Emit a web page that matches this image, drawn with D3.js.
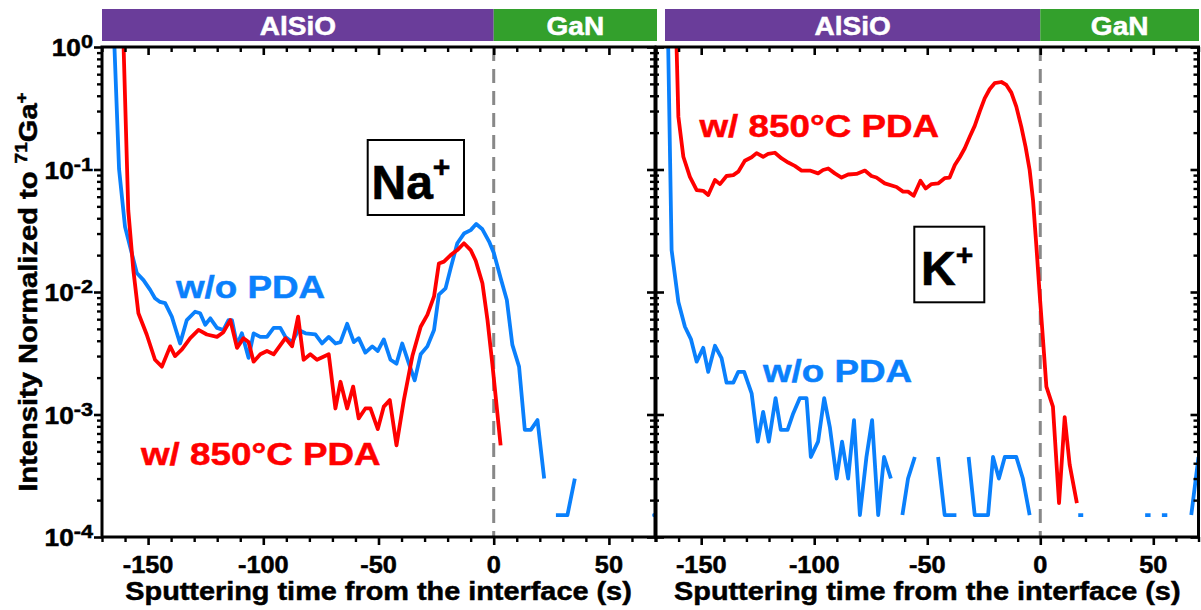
<!DOCTYPE html>
<html><head><meta charset="utf-8">
<script src="https://cdn.jsdelivr.net/npm/d3@7/dist/d3.min.js"></script>
<style>
body{margin:0;background:#fff}
svg{display:block}
text{font-family:"Liberation Sans",Arial,Helvetica,sans-serif;font-weight:bold}
</style>
</head><body>
<svg id="chart" width="1201" height="610"></svg>
<script>
// ---------------- DATA ----------------
const layerNames = ["AlSiO", "GaN"];
const ionNames = ["Na", "K"];
const seriesNames = ["w/o PDA", "w/ 850°C PDA"];
const xTickValues = [-150, -100, -50, 0, 50];
const yTickExponents = [0, -1, -2, -3, -4];
const xDomain = [-170, 70];
const yDomain = [1e-4, 1];
const interfaceTime = 0;
const xTitle = "Sputtering time from the interface (s)";

// Na+ panel, without PDA  [time (s), normalized intensity]  (null = no counts)
const naWithoutPda = [[-165.2,2.0],[-162.6,0.101],[-160.0,0.034],[-154.9,0.0143],[-152.0,0.0125],[-149.1,0.0104],[-147.0,0.0089],[-144.8,0.0083],[-142.6,0.0081],[-139.7,0.0063],[-136.1,0.0038],[-133.2,0.0059],[-129.6,0.0069],[-127.4,0.0067],[-125.2,0.0054],[-123.0,0.0061],[-120.1,0.0051],[-117.3,0.0049],[-115.1,0.0059],[-113.6,0.0059],[-111.4,0.0037],[-109.3,0.0046],[-106.4,0.0029],[-104.2,0.0046],[-101.3,0.0043],[-98.4,0.0043],[-95.5,0.0051],[-92.6,0.0051],[-90.4,0.0043],[-87.5,0.0039],[-84.7,0.0049],[-81.7,0.0046],[-77.4,0.0045],[-74.5,0.0038],[-71.6,0.0043],[-68.7,0.0038],[-66.5,0.0039],[-63.6,0.0055],[-60.7,0.0039],[-58.6,0.0042],[-55.7,0.0032],[-52.7,0.0036],[-50.3,0.0033],[-47.7,0.0041],[-44.8,0.0028],[-42.2,0.0026],[-39.7,0.0038],[-36.8,0.0026],[-34.3,0.0019],[-31.7,0.0031],[-28.8,0.0036],[-25.9,0.0049],[-23.8,0.0095],[-20.9,0.0107],[-18.7,0.0156],[-15.8,0.025],[-12.9,0.030],[-10.0,0.032],[-7.6,0.0359],[-4.9,0.0325],[-2.0,0.0258],[0.1,0.0207],[3.0,0.0130],[5.7,0.0086],[8.1,0.0037],[11.0,0.00246],[13.5,0.00075],[16.1,0.00075],[19.0,0.0009],[21.9,0.0003],[24.5,null],[27.0,0.000151],[32.0,0.000151],[35.2,0.0003],[38.0,null],[67.0,null],[69.7,0.000151]];

// Na+ panel, with 850°C PDA
const naWithPda = [[-160.8,1.3],[-158.6,0.0465],[-156.4,0.0151],[-154.2,0.0067],[-150.6,0.0045],[-147.0,0.0028],[-144.0,0.00246],[-140.4,0.0036],[-138.3,0.0030],[-135.3,0.0034],[-131.7,0.0042],[-128.1,0.0049],[-124.5,0.0045],[-120.1,0.0043],[-117.3,0.0047],[-114.3,0.0059],[-111.4,0.0035],[-108.6,0.0042],[-106.4,0.0039],[-104.2,0.0027],[-101.3,0.0031],[-98.4,0.0033],[-95.5,0.0031],[-90.4,0.0042],[-87.5,0.0036],[-84.9,0.0063],[-82.5,0.0028],[-79.6,0.0031],[-76.7,0.0028],[-71.6,0.0031],[-68.7,0.00112],[-66.5,0.00185],[-63.6,0.00112],[-61.0,0.00169],[-58.6,0.00093],[-55.7,0.00112],[-53.5,0.00112],[-50.3,0.00076],[-47.7,0.00116],[-45.1,0.00131],[-42.2,0.00056],[-39.0,0.00131],[-35.3,0.0030],[-31.7,0.0052],[-28.8,0.0065],[-25.9,0.0092],[-23.8,0.0171],[-21.6,0.0177],[-18.7,0.020],[-15.8,0.022],[-12.9,0.025],[-10.0,0.022],[-7.8,0.018],[-4.9,0.0118],[-2.7,0.0059],[-0.6,0.0026],[1.6,0.00102],[3.0,0.00056]];

// K+ panel, without PDA
const kWithoutPda = [[-164.8,1.5],[-164.6,1.0],[-163.1,0.022],[-160.1,0.0083],[-157.2,0.0052],[-154.5,0.0041],[-152.0,0.0027],[-149.1,0.0035],[-146.9,0.00223],[-143.9,0.00364],[-141.0,0.00288],[-138.8,0.00182],[-135.8,0.00182],[-133.6,0.00223],[-131.0,0.00223],[-127.7,0.00149],[-125.0,0.0006],[-122.6,0.00105],[-120.1,0.0006],[-117.1,0.00136],[-114.8,0.00075],[-111.8,0.00075],[-109.3,0.00102],[-106.4,0.00136],[-103.4,0.00136],[-101.5,0.00045],[-98.3,0.0006],[-95.6,0.00136],[-93.1,0.00079],[-90.1,0.0003],[-87.7,0.0006],[-85.0,0.0003],[-82.4,0.0009],[-79.8,0.000151],[-76.9,0.00045],[-74.4,0.0009],[-71.7,0.000151],[-69.1,0.00045],[-66.1,0.0003],[-63.5,null],[-61.0,0.000151],[-58.5,0.0003],[-55.5,0.00045],[-50.0,null],[-45.2,0.00045],[-42.3,0.000151],[-37.1,0.000151],[-34.4,null],[-31.7,0.00045],[-29.0,0.000151],[-23.1,0.000151],[-20.9,0.00045],[-18.3,0.0003],[-15.7,0.00045],[-10.6,0.00045],[-7.7,0.0003],[-4.7,0.000151],[5.0,null],[16.8,0.000151],[19.0,0.000151],[22.0,null],[46.4,0.000151],[48.8,0.000151],[51.3,null],[53.8,0.000151],[56.2,0.000151],[60.0,null],[66.8,0.000151],[70.0,0.00045]];

// K+ panel, with 850°C PDA
const kWithPda = [[-161.3,1.5],[-160.9,1.0],[-160.1,0.27],[-157.9,0.127],[-155.0,0.087],[-152.0,0.068],[-149.1,0.067],[-146.9,0.062],[-143.9,0.082],[-141.7,0.076],[-138.8,0.0885],[-135.8,0.090],[-133.6,0.096],[-130.7,0.118],[-127.7,0.126],[-125.5,0.136],[-122.6,0.127],[-120.4,0.134],[-117.4,0.137],[-114.4,0.123],[-111.5,0.114],[-108.6,0.107],[-105.6,0.098],[-101.9,0.098],[-98.3,0.093],[-96.1,0.099],[-93.8,0.102],[-90.9,0.093],[-87.9,0.086],[-85.0,0.091],[-81.3,0.092],[-77.6,0.098],[-74.7,0.0885],[-72.5,0.086],[-68.8,0.077],[-63.6,0.072],[-60.7,0.066],[-58.5,0.066],[-56.0,0.061],[-53.0,0.081],[-50.7,0.070],[-48.1,0.076],[-45.2,0.077],[-42.3,0.085],[-40.1,0.086],[-37.8,0.109],[-35.6,0.126],[-33.4,0.149],[-31.2,0.185],[-29.0,0.227],[-26.8,0.297],[-24.6,0.381],[-22.4,0.452],[-20.2,0.506],[-17.2,0.518],[-15.0,0.490],[-12.8,0.424],[-10.6,0.326],[-8.4,0.224],[-6.5,0.153],[-4.7,0.099],[-3.2,0.056],[-1.7,0.0234],[-0.3,0.0098],[1.2,0.0041],[2.7,0.00169],[5.6,0.00116],[8.3,0.000189],[10.8,0.00095],[13.0,0.00039],[16.2,0.000189]];

// ---------------- STYLE / LAYOUT ----------------
const COLORS = {noPda: "#0a80fc", pda: "#ff0000", alsio: "#6a3d9a", gan: "#33a02c", dash: "#888888"};
const TOP = 47, BOTTOM = 537;
const panels = [
  {x0: 102, x1: 655, bar0: 102, bar1: 657, ion: ionNames[0], showYLabels: true,
   series: [naWithoutPda, naWithPda],
   box: {x: 367.7, y: 140, w: 96.3, h: 75, tx: 371.5, ty: 199, supDy: -22},
   notes: [{x: 176, y: 298, s: 0}, {x: 141, y: 465, s: 1}]},
  {x0: 656, x1: 1198.5, bar0: 665, bar1: 1199, ion: ionNames[1], showYLabels: false,
   series: [kWithoutPda, kWithPda],
   box: {x: 914.3, y: 226.7, w: 70, h: 75.6, tx: 921, ty: 285, supDy: -20},
   notes: [{x: 763, y: 382, s: 0}, {x: 699.5, y: 137, s: 1}]}
];

const svg = d3.select("#chart");
const y = d3.scaleLog().domain(yDomain).range([BOTTOM, TOP]);
const yMajor = yTickExponents.map(e => Math.pow(10, e));
const yMinor = [];
yTickExponents.slice(1).forEach(e => { for (let m = 2; m <= 9; m++) yMinor.push(m * Math.pow(10, e)); });
const xMinor = d3.range(xDomain[0], xDomain[1] + 1, 10).filter(v => v % 50 !== 0);

function styleAxis(sel, w) {
  sel.select(".domain").remove();
  sel.selectAll(".tick line").attr("stroke", "#000").attr("stroke-width", w);
  sel.selectAll(".tick text").remove();
}
function axis(g, gen, tf, w) {
  const a = g.append("g").attr("transform", tf).call(gen);
  styleAxis(a, w);
}
function stretchedText(parent, x, yy, size, sx, anchor, fill) {
  return parent.append("text")
    .attr("transform", `translate(${x},${yy}) scale(${sx},1)`)
    .attr("text-anchor", anchor).attr("font-size", size).attr("fill", fill)
    .attr("stroke", fill).attr("stroke-width", 0.5);
}

panels.forEach((p, pi) => {
  const g = svg.append("g");
  const x = d3.scaleLinear().domain(xDomain).range([p.x0, p.x1]);
  const xi = x(interfaceTime);

  // header layer bars
  g.append("rect").attr("x", p.bar0).attr("y", 9).attr("width", xi - p.bar0).attr("height", 32).attr("fill", COLORS.alsio);
  g.append("rect").attr("x", xi).attr("y", 9).attr("width", p.bar1 - xi).attr("height", 32).attr("fill", COLORS.gan);
  stretchedText(g, (p.bar0 + xi) / 2, 35, 25, 1.12, "middle", "#fff").text(layerNames[0]);
  stretchedText(g, (xi + p.bar1) / 2, 35, 25, 1.12, "middle", "#fff").text(layerNames[1]);

  // clip
  const cid = "clip" + pi;
  g.append("clipPath").attr("id", cid).append("rect")
    .attr("x", p.x0).attr("y", TOP).attr("width", p.x1 - p.x0).attr("height", BOTTOM - TOP);

  // interface dashed line
  g.append("line").attr("x1", xi).attr("x2", xi).attr("y1", TOP).attr("y2", BOTTOM)
    .attr("stroke", COLORS.dash).attr("stroke-width", 3).attr("stroke-dasharray", "14,8");

  // data lines
  const line = d3.line().defined(d => d[1] != null).x(d => x(d[0])).y(d => y(d[1]));
  const plot = g.append("g").attr("clip-path", `url(#${cid})`);
  const cols = [COLORS.noPda, COLORS.pda];
  p.series.forEach((s, si) => {
    plot.append("path").datum(s).attr("d", line).attr("fill", "none")
      .attr("stroke", cols[si]).attr("stroke-width", 3.8)
      .attr("stroke-linejoin", "round").attr("stroke-linecap", "butt");
    // isolated points
    const iso = s.filter((d, i) => d[1] != null &&
      (i === 0 || s[i - 1][1] == null) && (i === s.length - 1 || s[i + 1][1] == null));
    plot.selectAll(null).data(iso).enter().append("circle")
      .attr("cx", d => x(d[0])).attr("cy", d => y(d[1])).attr("r", 2.2).attr("fill", cols[si]);
  });

  // frame
  g.append("rect").attr("x", p.x0).attr("y", TOP).attr("width", p.x1 - p.x0).attr("height", BOTTOM - TOP)
    .attr("fill", "none").attr("stroke", "#000").attr("stroke-width", 3);

  // x axes: bottom (outward), top (inward)
  axis(g, d3.axisBottom(x).tickValues(xTickValues).tickSize(8).tickSizeOuter(0), `translate(0,${BOTTOM})`, 2.6);
  axis(g, d3.axisBottom(x).tickValues(xMinor).tickSize(5).tickSizeOuter(0), `translate(0,${BOTTOM})`, 2.4);
  axis(g, d3.axisBottom(x).tickValues(xTickValues).tickSize(8).tickSizeOuter(0), `translate(0,${TOP})`, 2.6);
  axis(g, d3.axisBottom(x).tickValues(xMinor).tickSize(5).tickSizeOuter(0), `translate(0,${TOP})`, 2.4);

  // y axes
  if (pi === 0) {
    axis(g, d3.axisLeft(y).tickValues(yMajor).tickSize(8).tickSizeOuter(0), `translate(${p.x0},0)`, 2.6);
    axis(g, d3.axisLeft(y).tickValues(yMinor).tickSize(5).tickSizeOuter(0), `translate(${p.x0},0)`, 2.4);
  } else {
    axis(g, d3.axisRight(y).tickValues(yMajor).tickSize(9).tickSizeOuter(0), `translate(${p.x0 - 1},0)`, 2.6);
    axis(g, d3.axisRight(y).tickValues(yMinor).tickSize(4).tickSizeOuter(0), `translate(${p.x0 - 1},0)`, 2.4);
  }
  axis(g, d3.axisLeft(y).tickValues(yMajor).tickSize(8).tickSizeOuter(0), `translate(${p.x1},0)`, 2.6);
  axis(g, d3.axisLeft(y).tickValues(yMinor).tickSize(5).tickSizeOuter(0), `translate(${p.x1},0)`, 2.4);

  // x tick labels
  xTickValues.forEach(v => {
    stretchedText(g, x(v), 573, 23, 1.1, "middle", "#000").text(String(v));
  });
  // y tick labels
  if (p.showYLabels) {
    yTickExponents.forEach(e => {
      const t = stretchedText(g, 93, y(Math.pow(10, e)) + 9, 23, 1.14, "end", "#000");
      t.append("tspan").text("10");
      t.append("tspan").attr("font-size", 19).attr("dy", -8).text(String(e));
    });
  }
  // x title
  stretchedText(g, (p.x0 + p.x1) / 2, 600, 26, 1.11, "middle", "#000").text(xTitle);

  // ion box
  g.append("rect").attr("x", p.box.x).attr("y", p.box.y).attr("width", p.box.w).attr("height", p.box.h)
    .attr("fill", "#fff").attr("stroke", "#000").attr("stroke-width", 2);
  const ion = g.append("text").attr("x", p.box.tx).attr("y", p.box.ty).attr("font-size", 48)
    .attr("fill", "#000").attr("stroke", "#000").attr("stroke-width", 0.6);
  ion.append("tspan").text(p.ion);
  ion.append("tspan").attr("font-size", 30).attr("dy", p.box.supDy).text("+");

  // series annotations
  p.notes.forEach(n => {
    stretchedText(g, n.x, n.y, 32, 1.15, "start", cols[n.s]).text(seriesNames[n.s]);
  });
});

// y title
const yt = svg.append("text").attr("transform", "translate(37,292) rotate(-90) scale(1.12,1)")
  .attr("text-anchor", "middle").attr("font-size", 26).attr("fill", "#000")
  .attr("stroke", "#000").attr("stroke-width", 0.5);
yt.append("tspan").text("Intensity Normalized to ");
yt.append("tspan").attr("font-size", 17).attr("dy", -10).text("71");
yt.append("tspan").attr("dy", 10).text("Ga");
yt.append("tspan").attr("font-size", 17).attr("dy", -10).text("+");
</script>
</body></html>
